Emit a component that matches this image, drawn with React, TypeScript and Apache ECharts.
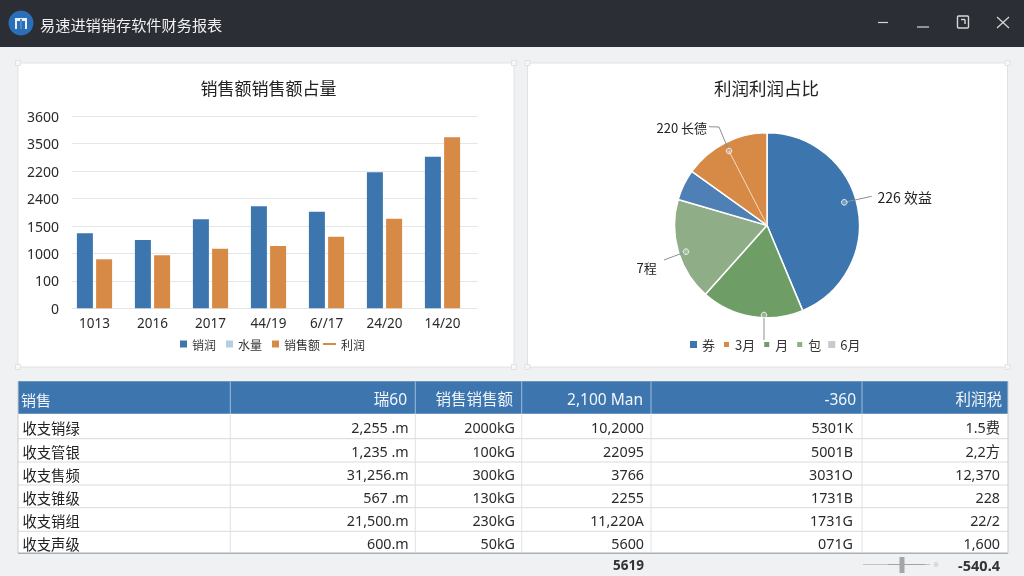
import React, { useEffect, useRef } from "react";
import * as echarts from "echarts";

const FONT = '"Noto Sans","Noto Sans CJK SC",sans-serif';
const CJK = '"Noto Sans CJK SC","Noto Sans",sans-serif';

const appTitle = "易速进销销存软件财务报表";
const barTitle = "销售额销售额占量";
const pieTitle = "利润利润占比";

const years = ["1013", "2016", "2017", "44/19", "6//17", "24/20", "14/20"];
const yTickLabels = ["0", "100", "1000", "1500", "2400", "2200", "3500", "3600"];
const seriesNames = ["销润", "水量", "销售额", "利润"];
const blueValues = [1367, 1245, 1622, 1859, 1761, 2479, 2763];
const orangeValues = [893, 966, 1086, 1136, 1305, 1633, 3117];

const pieNames = ["券", "3月", "月", "包", "6月"];
const pieValues = [43.7, 17.9, 17.9, 5.4, 15.1];

const tableHeader = ["销售", "瑞60", "销售销售额", "2,100 Man", "-360", "利润税"];
const col1 = ["收支销绿", "收支管银", "收支售频", "收支锥级", "收支销组", "收支声级"];
const col2 = ["2,255 .m", "1,235 .m", "31,256.m", "567 .m", "21,500.m", "600.m"];
const col3 = ["2000kG", "100kG", "300kG", "130kG", "230kG", "50kG"];
const col4 = ["10,2000", "22095", "3766", "2255", "11,220A", "5600"];
const col5 = ["5301K", "5001B", "3031O", "1731B", "1731G", "071G"];
const col6 = ["1.5费", "2,2方", "12,370", "228", "22/2", "1,600"];
const footer = ["5619", "-540.4"];

const BLUE = "#3d76ae";
const ORANGE = "#d68a45";
const GREEN = "#6e9e66";
const SAGE = "#8fae88";
const SMALL_BLUE = "#4e80b6";
const GREY = "#c6c9d0";

function buildGraphics() {
  const g: any[] = [];
  const rect = (x: number, y: number, w: number, h: number, fill: string, z = -5, stroke?: string) =>
    g.push({ type: "rect", z, silent: true, shape: { x, y, width: w, height: h }, style: { fill, stroke, lineWidth: stroke ? 1 : 0 } });
  const line = (x1: number, y1: number, x2: number, y2: number, stroke: string, z = -3, lineWidth = 1) =>
    g.push({ type: "line", z, silent: true, shape: { x1, y1, x2, y2 }, style: { stroke, lineWidth } });
  const text = (x: number, y: number, t: string, fill: string, size: number, align = "left", weight = "normal", family = FONT) =>
    g.push({ type: "text", z: 5, silent: true, x, y, style: { text: t, fill, fontSize: size, fontFamily: family, fontWeight: weight, align, verticalAlign: "middle" } });

  // window chrome
  rect(0, 0, 1024, 576, "#eff1f2", -9);
  rect(0, 0, 1024, 47, "#2b2e34", -8);
  g.push({ type: "circle", z: 5, silent: true, shape: { cx: 21, cy: 23, r: 12.5 }, style: { fill: "#2a6fb8" } });
  rect(15, 18, 12, 11, "#e8f0f8", 6);
  rect(20.2, 19, 1.6, 10, "#2a6fb8", 7);
  rect(17, 21, 3, 8, "#2a6fb8", 7);
  rect(22, 21, 3, 8, "#2a6fb8", 7);
  text(40, 23.5, appTitle, "#f0f0f0", 15.2, "left", "normal", CJK);
  line(878, 22.5, 888, 22.5, "#d8d8d8", 5, 1.2);
  line(917, 27, 929, 27, "#d8d8d8", 5, 1.2);
  g.push({ type: "rect", z: 5, silent: true, shape: { x: 957.5, y: 16, width: 11, height: 12, r: 1 }, style: { fill: "none", stroke: "#d8d8d8", lineWidth: 1.4 } });
  line(961, 19.5, 965, 19.5, "#d8d8d8", 5, 1.4);
  line(965, 19.5, 965, 24, "#d8d8d8", 5, 1.4);
  line(997, 17, 1009, 28, "#d8d8d8", 5, 1.2);
  line(1009, 17, 997, 28, "#d8d8d8", 5, 1.2);

  // chart panels
  const panels = [[18, 63, 496, 304], [527.5, 63, 480, 304]];
  panels.forEach(([x, y, w, h]) => {
    rect(x, y, w, h, "#ffffff", -7, "#dfe3e6");
    [[x, y], [x + w, y], [x, y + h], [x + w, y + h]].forEach(([cx, cy]) =>
      rect(cx - 2.5, cy - 2.5, 5, 5, "#f6f7f8", -6, "#e0e3e6"));
  });

  // pie leader lines
  const lead = "#8b9093";
  g.push({ type: "polyline", z: 5, silent: true, shape: { points: [[709, 126.7], [719, 127], [729, 151]] }, style: { fill: "none", stroke: lead, lineWidth: 1 } });
  line(729, 151, 767, 225, "#f4dcc4", 5, 1);
  line(844.3, 202.3, 871.7, 196.3, lead, 5, 1);
  line(664, 260, 686, 251.7, lead, 5, 1);
  line(764, 315, 764, 340, lead, 5, 1);
  [[729, 151], [844.3, 202.3], [686, 251.7], [764, 315]].forEach(([cx, cy]) =>
    g.push({ type: "circle", z: 6, silent: true, shape: { cx, cy, r: 2.8 }, style: { fill: "rgba(255,255,255,0.25)", stroke: "#eef2f2", lineWidth: 1 } }));

  // table
  const colEdges = [18, 230.3, 415.3, 521.7, 651, 862, 1008];
  const rowEdges = [413.7, 438.7, 462, 485, 507.7, 531.3, 553.3];
  const rowCentres = [427.7, 451, 474.3, 497, 520.3, 543.7];
  const rightEdges = [408.7, 515, 644, 853, 1000];
  const headerRights = [407, 513, 643, 856, 1002];
  rect(18, 413.7, 990, 139.6, "#ffffff", -6);
  rect(18, 381.3, 990, 32.4, BLUE, -4);
  rowEdges.slice(1, 6).forEach((y) => line(18, y, 1008, y, "#d6dadc"));
  line(18, 553.3, 1008, 553.3, "#aab0b4", -3, 1.5);
  colEdges.slice(1, 6).forEach((x) => {
    line(x, 381.3, x, 413.7, "#9dbcd8", -3);
    line(x, 413.7, x, 553, "#dfe2e4");
  });
  line(18, 381.3, 18, 553, "#c9cdd0");
  line(1008, 381.3, 1008, 553, "#c9cdd0");
  text(21, 399.3, tableHeader[0], "#f2f6fa", 15, "left", "normal", CJK);
  tableHeader.slice(1).forEach((t, i) => text(headerRights[i], 399.3, t, "#f2f6fa", 15.5, "right"));
  col1.forEach((t, r) => text(22.5, rowCentres[r], t, "#222222", 14.3, "left", "normal", CJK));
  [col2, col3, col4, col5, col6].forEach((col, c) =>
    col.forEach((t, r) => text(rightEdges[c], rowCentres[r], t, "#2a2a2a", 14.3, "right")));

  // footer
  text(644, 564.5, footer[0], "#333333", 13.5, "right", "bold");
  text(1000, 564.5, footer[1], "#333333", 14.5, "right", "bold");
  line(863, 564.5, 930, 564.5, "#c2c6c8", 5, 1);
  line(888, 564.5, 925, 564.5, "#a0a4a6", 5, 1);
  rect(899.5, 557, 5, 16, "#a2a6a8", 5);
  g.push({ type: "circle", z: 5, silent: true, shape: { cx: 936, cy: 564.5, r: 2.5 }, style: { fill: "#d8dadb" } });
  return g;
}

const pieLabelTexts: Record<string, string> = { main: "226 效益", orange: "220 长德", sage: "7程" };
const pieLabelSpots: Record<string, any> = {
  main: { x: 877.5, y: 197, align: "left", verticalAlign: "middle" },
  orange: { x: 656.5, y: 127.5, align: "left", verticalAlign: "middle" },
  sage: { x: 636.5, y: 267, align: "left", verticalAlign: "middle" },
};

function buildOption() {
  const labelStyle = { color: "#2a2a2a", fontSize: 13, fontFamily: FONT };
  const legendText = { color: "#333333", fontSize: 13, fontFamily: CJK };
  const barLegendText = { color: "#333333", fontSize: 12, fontFamily: CJK };
  const pieLabel = (key: string, size = 13) => ({
    show: true,
    position: "outside",
    formatter: pieLabelTexts[key],
    color: "#222222",
    fontSize: size,
    fontFamily: CJK,
  });
  const pieData = [
    { name: "主", value: pieValues[0], itemStyle: { color: BLUE }, label: pieLabel("main", 14), labelLine: { show: false } },
    { name: pieNames[2], value: pieValues[1], itemStyle: { color: GREEN }, label: { show: false }, labelLine: { show: false } },
    { name: pieNames[3], value: pieValues[2], itemStyle: { color: SAGE }, label: pieLabel("sage"), labelLine: { show: false } },
    { name: "小", value: pieValues[3], itemStyle: { color: SMALL_BLUE }, label: { show: false }, labelLine: { show: false } },
    { name: pieNames[1], value: pieValues[4], itemStyle: { color: ORANGE }, label: pieLabel("orange"), labelLine: { show: false } },
  ];
  const spots = ["main", null, "sage", null, "orange"];
  return {
    animation: false,
    backgroundColor: "transparent",
    title: [
      { text: barTitle, left: 268.5, top: 87, padding: 0, textAlign: "center", textVerticalAlign: "middle", textStyle: { fontSize: 17, fontWeight: "normal", color: "#222222", fontFamily: CJK } },
      { text: pieTitle, left: 766.5, top: 87, padding: 0, textAlign: "center", textVerticalAlign: "middle", textStyle: { fontSize: 17.5, fontWeight: "normal", color: "#222222", fontFamily: CJK } },
    ],
    grid: [
      { left: 72, top: 116.3, width: 406, height: 192 },
      { left: 65.5, top: 116.3, width: 406, height: 192 },
    ],
    xAxis: [
      { type: "category", gridIndex: 0, data: years, show: false },
      {
        type: "category",
        gridIndex: 1,
        data: years,
        axisTick: { show: false },
        axisLine: { lineStyle: { color: "transparent" } },
        axisLabel: { ...labelStyle, fontSize: 13.5, margin: 8 },
      },
    ],
    yAxis: [
      {
        type: "value",
        gridIndex: 0,
        min: 0,
        max: 3500,
        interval: 500,
        axisLine: { show: false },
        axisTick: { show: false },
        splitLine: { lineStyle: { color: "#e4e6e8", width: 1 } },
        axisLabel: { ...labelStyle, fontSize: 14, margin: 13, formatter: (v: number) => yTickLabels[Math.round(v / 500)] },
      },
      { type: "value", gridIndex: 1, min: 0, max: 3500, interval: 500, show: false },
    ],
    legend: [
      {
        left: 180, top: 338, padding: 0, itemWidth: 7, itemHeight: 7, itemGap: 10, icon: "rect", selectedMode: false, textStyle: barLegendText,
        data: [seriesNames[0], seriesNames[1], seriesNames[2]],
      },
      {
        left: 323, top: 338, padding: 0, itemWidth: 13, itemHeight: 2, icon: "rect", selectedMode: false, textStyle: barLegendText,
        data: [seriesNames[3]],
      },
      {
        left: 690, top: 338, padding: 0, itemWidth: 7, itemHeight: 7, itemGap: 7, icon: "rect", selectedMode: false, textStyle: legendText,
        data: pieNames,
      },
    ],
    series: [
      { name: seriesNames[0], type: "bar", xAxisIndex: 1, yAxisIndex: 1, data: blueValues, barWidth: 16, barGap: "20%", itemStyle: { color: BLUE } },
      { name: seriesNames[2], type: "bar", xAxisIndex: 1, yAxisIndex: 1, data: orangeValues, barWidth: 16, barGap: "20%", itemStyle: { color: ORANGE } },
      { name: seriesNames[1], type: "line", xAxisIndex: 1, yAxisIndex: 1, data: [], symbol: "none", itemStyle: { color: "#b4cfe3" }, lineStyle: { color: "#b4cfe3" } },
      { name: seriesNames[3], type: "line", xAxisIndex: 1, yAxisIndex: 1, data: [], symbol: "none", itemStyle: { color: ORANGE }, lineStyle: { color: ORANGE } },
      {
        type: "pie",
        center: [767, 225.3],
        radius: 92.5,
        startAngle: 90,
        itemStyle: { borderColor: "#ffffff", borderWidth: 1.5 },
        emphasis: { disabled: true },
        data: pieData,
        labelLayout: (p: any) => {
          const key = spots[p.dataIndex];
          return key ? pieLabelSpots[key] : {};
        },
      },
      // legend keys of the pie
      {
        type: "pie", radius: 0, center: [767, 225.3], silent: true, label: { show: false },
        data: [
          { name: pieNames[0], value: 0, itemStyle: { color: BLUE } },
          { name: pieNames[1], value: 0, itemStyle: { color: ORANGE } },
          { name: pieNames[2], value: 0, itemStyle: { color: GREEN } },
          { name: pieNames[3], value: 0, itemStyle: { color: SAGE } },
          { name: pieNames[4], value: 0, itemStyle: { color: GREY } },
        ],
      },
    ],
    graphic: { elements: buildGraphics() },
  };
}

export default function App() {
  const ref = useRef<HTMLDivElement>(null);
  useEffect(() => {
    document.body.style.margin = "0";
    const chart = echarts.init(ref.current!, undefined, { renderer: "svg" });
    chart.setOption(buildOption() as any);
    return () => chart.dispose();
  }, []);
  return <div ref={ref} style={{ position: "fixed", left: 0, top: 0, width: 1024, height: 576 }} />;
}
